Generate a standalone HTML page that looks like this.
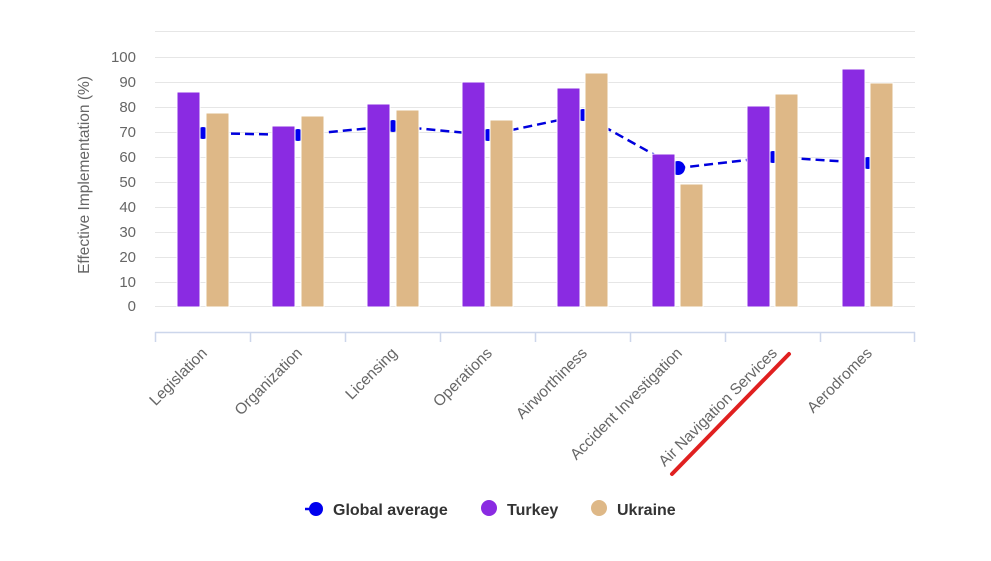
<!DOCTYPE html><html><head><style>body{margin:0;background:#fff}svg{display:block;font-family:"Liberation Sans",sans-serif}</style></head><body>
<svg width="991" height="561" xmlns="http://www.w3.org/2000/svg">
<g stroke="#e6e6e6" stroke-width="1">
<line x1="155" x2="915" y1="31.5" y2="31.5"/><line x1="155" x2="915" y1="57.5" y2="57.5"/><line x1="155" x2="915" y1="82.5" y2="82.5"/><line x1="155" x2="915" y1="107.5" y2="107.5"/><line x1="155" x2="915" y1="132.5" y2="132.5"/><line x1="155" x2="915" y1="157.5" y2="157.5"/><line x1="155" x2="915" y1="182.5" y2="182.5"/><line x1="155" x2="915" y1="207.5" y2="207.5"/><line x1="155" x2="915" y1="232.5" y2="232.5"/><line x1="155" x2="915" y1="257.5" y2="257.5"/><line x1="155" x2="915" y1="282.5" y2="282.5"/><line x1="155" x2="915" y1="306.5" y2="306.5"/>
</g>
<g fill="#666" font-size="15" text-anchor="end">
<text x="136" y="62">100</text><text x="136" y="87">90</text><text x="136" y="112">80</text><text x="136" y="137">70</text><text x="136" y="162">60</text><text x="136" y="187">50</text><text x="136" y="212">40</text><text x="136" y="237">30</text><text x="136" y="262">20</text><text x="136" y="287">10</text><text x="136" y="311">0</text>
</g>
<text transform="translate(89,175) rotate(-90)" text-anchor="middle" fill="#666" font-size="15.5">Effective Implementation (%)</text>
<g stroke="#ccd6eb" stroke-width="1.5" fill="none"><path d="M155 332.5H915"/>
<path d="M155.5 332v10M250.5 332v10M345.5 332v10M440.5 332v10M535.5 332v10M630.5 332v10M725.5 332v10M820.5 332v10M914.5 332v10"/></g>
<polyline points="203,133 298,135 393,126 488,135 583,115 678,168 773,157 868,163" fill="none" stroke="#0000dd" stroke-width="2.5" stroke-dasharray="9,5"/>
<g fill="#0000ee">
<circle cx="203" cy="133" r="6"/><circle cx="298" cy="135" r="6"/><circle cx="393" cy="126" r="6"/><circle cx="488" cy="135" r="6"/><circle cx="583" cy="115" r="6"/><circle cx="678" cy="168" r="7"/><circle cx="773" cy="157" r="6"/><circle cx="868" cy="163" r="6"/></g>
<g fill="#8a2be2" stroke="#fff" stroke-width="1">
<rect x="177" y="92" width="23" height="215"/><rect x="272" y="126" width="23" height="181"/><rect x="367" y="104" width="23" height="203"/><rect x="462" y="82" width="23" height="225"/><rect x="557" y="88" width="23" height="219"/><rect x="652" y="154" width="23" height="153"/><rect x="747" y="106" width="23" height="201"/><rect x="842" y="69" width="23" height="238"/></g>
<g fill="#deb887" stroke="#fff" stroke-width="1">
<rect x="206" y="113" width="23" height="194"/><rect x="301" y="116" width="23" height="191"/><rect x="396" y="110" width="23" height="197"/><rect x="490" y="120" width="23" height="187"/><rect x="585" y="73" width="23" height="234"/><rect x="680" y="184" width="23" height="123"/><rect x="775" y="94" width="23" height="213"/><rect x="870" y="83" width="23" height="224"/></g>
<g fill="#666" font-size="15.5" text-anchor="end">
<text transform="translate(208,354) rotate(-45)">Legislation</text>
<text transform="translate(303,354) rotate(-45)">Organization</text>
<text transform="translate(398,354) rotate(-45)">Licensing</text>
<text transform="translate(493,354) rotate(-45)">Operations</text>
<text transform="translate(588,354) rotate(-45)">Airworthiness</text>
<text transform="translate(683,354) rotate(-45)">Accident Investigation</text>
<text transform="translate(778,354) rotate(-45)">Air Navigation Services</text>
<text transform="translate(873,354) rotate(-45)">Aerodromes</text>
</g>
<path d="M672 474 L789 354" stroke="#e02020" stroke-width="4" stroke-linecap="round"/>
<g font-size="16" font-weight="bold" fill="#333">
<line x1="305" x2="316" y1="509" y2="509" stroke="#0000ee" stroke-width="2.5"/>
<circle cx="316" cy="509" r="7" fill="#0000ee"/><text x="333" y="515">Global average</text>
<circle cx="489" cy="508" r="8" fill="#8a2be2"/><text x="507" y="515">Turkey</text>
<circle cx="599" cy="508" r="8" fill="#deb887"/><text x="617" y="515">Ukraine</text>
</g>
</svg></body></html>
